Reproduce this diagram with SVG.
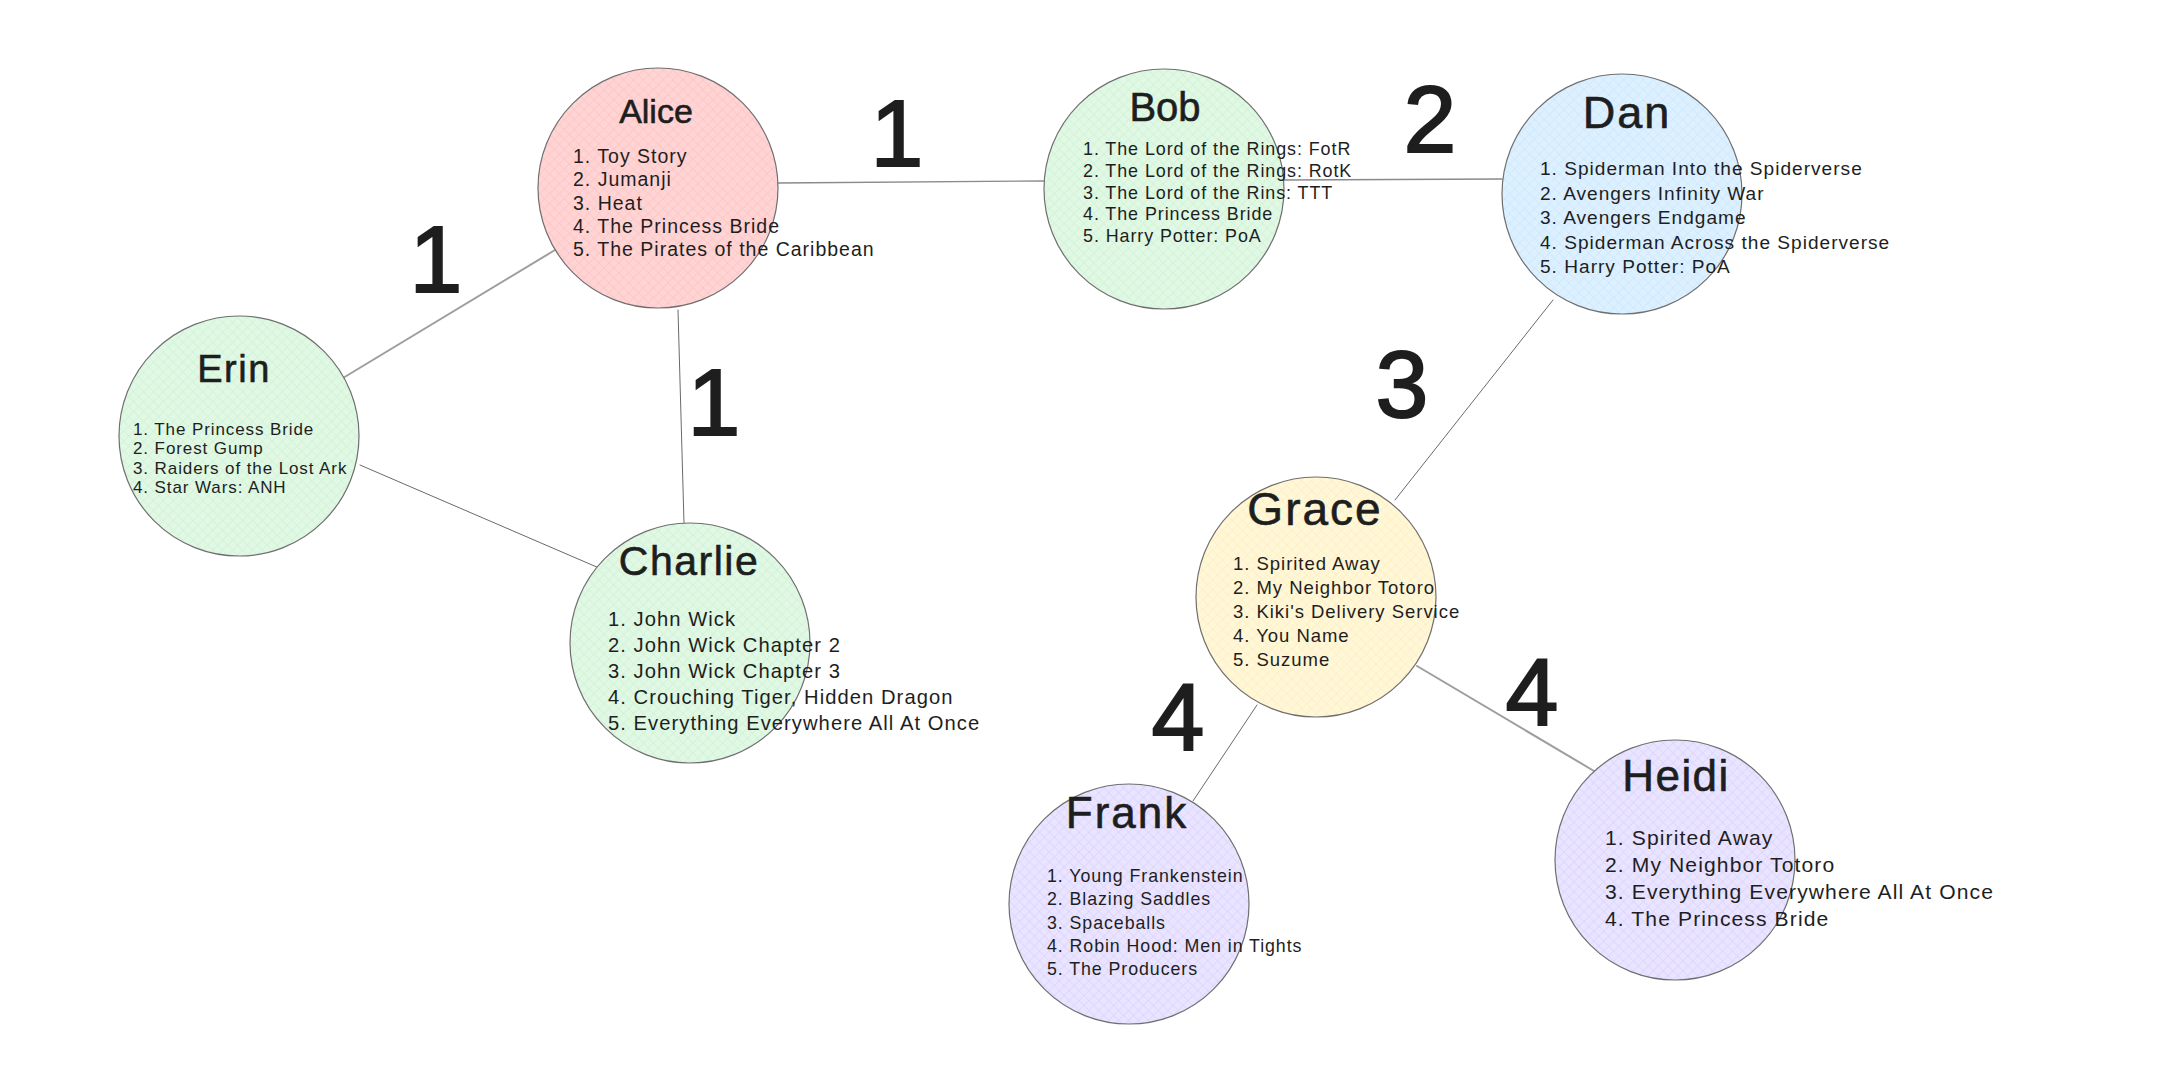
<svg xmlns="http://www.w3.org/2000/svg" width="2157" height="1074" viewBox="0 0 2157 1074">
<style>
.bg{fill:#ffffff}
.node circle{stroke:#6f6f6f;stroke-width:1.2}
.name{font-family:"Liberation Sans",Arial,sans-serif;fill:#1e1e1e;text-anchor:middle;stroke:#1e1e1e;stroke-width:0.6}
.item{font-family:"Liberation Sans",Arial,sans-serif;fill:#1e1e1e}
.edge{stroke:#8a8a8a;stroke-width:1.3;fill:none;stroke-linecap:round}
.edge.light{stroke:#9e9e9e;stroke-width:2}
.edge.dark{stroke:#6a6a6a;stroke-width:1}
.weight{font-family:"Liberation Sans",Arial,sans-serif;font-size:95px;fill:#1e1e1e;stroke:#1e1e1e;stroke-width:2;text-anchor:middle}
</style>
<defs>
<pattern id="pPink" patternUnits="userSpaceOnUse" width="7" height="7" patternTransform="rotate(45)"><rect width="7" height="7" fill="#ffd4d4"/><path d="M0 0V7M0 0H7" stroke="#ffbcbc" stroke-width="1"/></pattern>
<pattern id="pGreen" patternUnits="userSpaceOnUse" width="7" height="7" patternTransform="rotate(45)"><rect width="7" height="7" fill="#e0f8e4"/><path d="M0 0V7M0 0H7" stroke="#c8f0cf" stroke-width="1"/></pattern>
<pattern id="pBlue" patternUnits="userSpaceOnUse" width="7" height="7" patternTransform="rotate(45)"><rect width="7" height="7" fill="#ddf0ff"/><path d="M0 0V7M0 0H7" stroke="#c6e4fb" stroke-width="1"/></pattern>
<pattern id="pYellow" patternUnits="userSpaceOnUse" width="7" height="7" patternTransform="rotate(45)"><rect width="7" height="7" fill="#fff7d8"/><path d="M0 0V7M0 0H7" stroke="#fdecb4" stroke-width="1"/></pattern>
<pattern id="pViolet" patternUnits="userSpaceOnUse" width="7" height="7" patternTransform="rotate(45)"><rect width="7" height="7" fill="#e9e4ff"/><path d="M0 0V7M0 0H7" stroke="#d7cdfc" stroke-width="1"/></pattern>
</defs>
<rect class="bg" x="0" y="0" width="2157" height="1074"/>

<g id="connectors">
<line class="edge" x1="778" y1="183" x2="1044" y2="181"/>
<line class="edge" x1="1284" y1="180" x2="1502" y2="179"/>
<line class="edge light" x1="343" y1="378" x2="555" y2="250"/>
<line class="edge dark" x1="360" y1="465" x2="599" y2="568"/>
<line class="edge dark" x1="678" y1="310" x2="684" y2="523"/>
<line class="edge dark" x1="1553" y1="300" x2="1395" y2="500"/>
<line class="edge dark" x1="1257" y1="705" x2="1193" y2="801"/>
<line class="edge light" x1="1417" y1="666" x2="1594" y2="771"/>
<g id="weights">
<text class="weight" x="897" y="166">1</text>
<text class="weight" x="436" y="292">1</text>
<text class="weight" x="714" y="435">1</text>
<text class="weight" x="1430" y="152">2</text>
<text class="weight" x="1402" y="417">3</text>
<text class="weight" x="1178" y="750">4</text>
<text class="weight" x="1532" y="725">4</text>
</g>
</g>

<g id="node-alice" class="node">
<circle cx="658" cy="188" r="120" fill="url(#pPink)"/>
<text class="name" x="656" y="123" style="font-size:34px">Alice</text>
<text class="item" style="font-size:19.5px;letter-spacing:1px">
<tspan x="573" y="163">1. Toy Story</tspan>
<tspan x="573" y="186.3">2. Jumanji</tspan>
<tspan x="573" y="209.5">3. Heat</tspan>
<tspan x="573" y="232.8">4. The Princess Bride</tspan>
<tspan x="573" y="256">5. The Pirates of the Caribbean</tspan>
</text>
</g>

<g id="node-bob" class="node">
<circle cx="1164" cy="189" r="120" fill="url(#pGreen)"/>
<text class="name" x="1165" y="121" style="font-size:40px">Bob</text>
<text class="item" style="font-size:17.9px;letter-spacing:0.93px">
<tspan x="1083" y="155">1. The Lord of the Rings: FotR</tspan>
<tspan x="1083" y="176.8">2. The Lord of the Rings: RotK</tspan>
<tspan x="1083" y="198.5">3. The Lord of the Rins: TTT</tspan>
<tspan x="1083" y="220.3">4. The Princess Bride</tspan>
<tspan x="1083" y="242">5. Harry Potter: PoA</tspan>
</text>
</g>

<g id="node-dan" class="node">
<circle cx="1622" cy="194" r="120" fill="url(#pBlue)"/>
<text class="name" x="1627" y="127.5" style="font-size:45px;letter-spacing:2px">Dan</text>
<text class="item" style="font-size:19.1px;letter-spacing:1px">
<tspan x="1540" y="175">1. Spiderman Into the Spiderverse</tspan>
<tspan x="1540" y="199.5">2. Avengers Infinity War</tspan>
<tspan x="1540" y="224">3. Avengers Endgame</tspan>
<tspan x="1540" y="248.5">4. Spiderman Across the Spiderverse</tspan>
<tspan x="1540" y="273">5. Harry Potter: PoA</tspan>
</text>
</g>

<g id="node-erin" class="node">
<circle cx="239" cy="436" r="120" fill="url(#pGreen)"/>
<text class="name" x="234" y="382" style="font-size:38px;letter-spacing:1.5px">Erin</text>
<text class="item" style="font-size:17px;letter-spacing:0.9px">
<tspan x="133" y="435">1. The Princess Bride</tspan>
<tspan x="133" y="454.4">2. Forest Gump</tspan>
<tspan x="133" y="473.8">3. Raiders of the Lost Ark</tspan>
<tspan x="133" y="493.2">4. Star Wars: ANH</tspan>
</text>
</g>

<g id="node-charlie" class="node">
<circle cx="690" cy="643" r="120" fill="url(#pGreen)"/>
<text class="name" x="689" y="575" style="font-size:41px;letter-spacing:1.5px">Charlie</text>
<text class="item" style="font-size:20.2px;letter-spacing:1.05px">
<tspan x="608" y="626">1. John Wick</tspan>
<tspan x="608" y="651.9">2. John Wick Chapter 2</tspan>
<tspan x="608" y="677.8">3. John Wick Chapter 3</tspan>
<tspan x="608" y="703.7">4. Crouching Tiger, Hidden Dragon</tspan>
<tspan x="608" y="729.6">5. Everything Everywhere All At Once</tspan>
</text>
</g>

<g id="node-grace" class="node">
<circle cx="1316" cy="597" r="120" fill="url(#pYellow)"/>
<text class="name" x="1315" y="525" style="font-size:46px;letter-spacing:2px">Grace</text>
<text class="item" style="font-size:18.5px;letter-spacing:0.97px">
<tspan x="1233" y="570">1. Spirited Away</tspan>
<tspan x="1233" y="594">2. My Neighbor Totoro</tspan>
<tspan x="1233" y="618">3. Kiki's Delivery Service</tspan>
<tspan x="1233" y="642">4. You Name</tspan>
<tspan x="1233" y="666">5. Suzume</tspan>
</text>
</g>

<g id="node-frank" class="node">
<circle cx="1129" cy="904" r="120" fill="url(#pViolet)"/>
<text class="name" x="1127" y="828" style="font-size:44px;letter-spacing:2px">Frank</text>
<text class="item" style="font-size:17.8px;letter-spacing:0.93px">
<tspan x="1047" y="882">1. Young Frankenstein</tspan>
<tspan x="1047" y="905.3">2. Blazing Saddles</tspan>
<tspan x="1047" y="928.6">3. Spaceballs</tspan>
<tspan x="1047" y="951.9">4. Robin Hood: Men in Tights</tspan>
<tspan x="1047" y="975.2">5. The Producers</tspan>
</text>
</g>

<g id="node-heidi" class="node">
<circle cx="1675" cy="860" r="120" fill="url(#pViolet)"/>
<text class="name" x="1676" y="791" style="font-size:44px;letter-spacing:1.4px">Heidi</text>
<text class="item" style="font-size:21.1px;letter-spacing:1.1px">
<tspan x="1605" y="845">1. Spirited Away</tspan>
<tspan x="1605" y="872">2. My Neighbor Totoro</tspan>
<tspan x="1605" y="899">3. Everything Everywhere All At Once</tspan>
<tspan x="1605" y="926">4. The Princess Bride</tspan>
</text>
</g>
</svg>
